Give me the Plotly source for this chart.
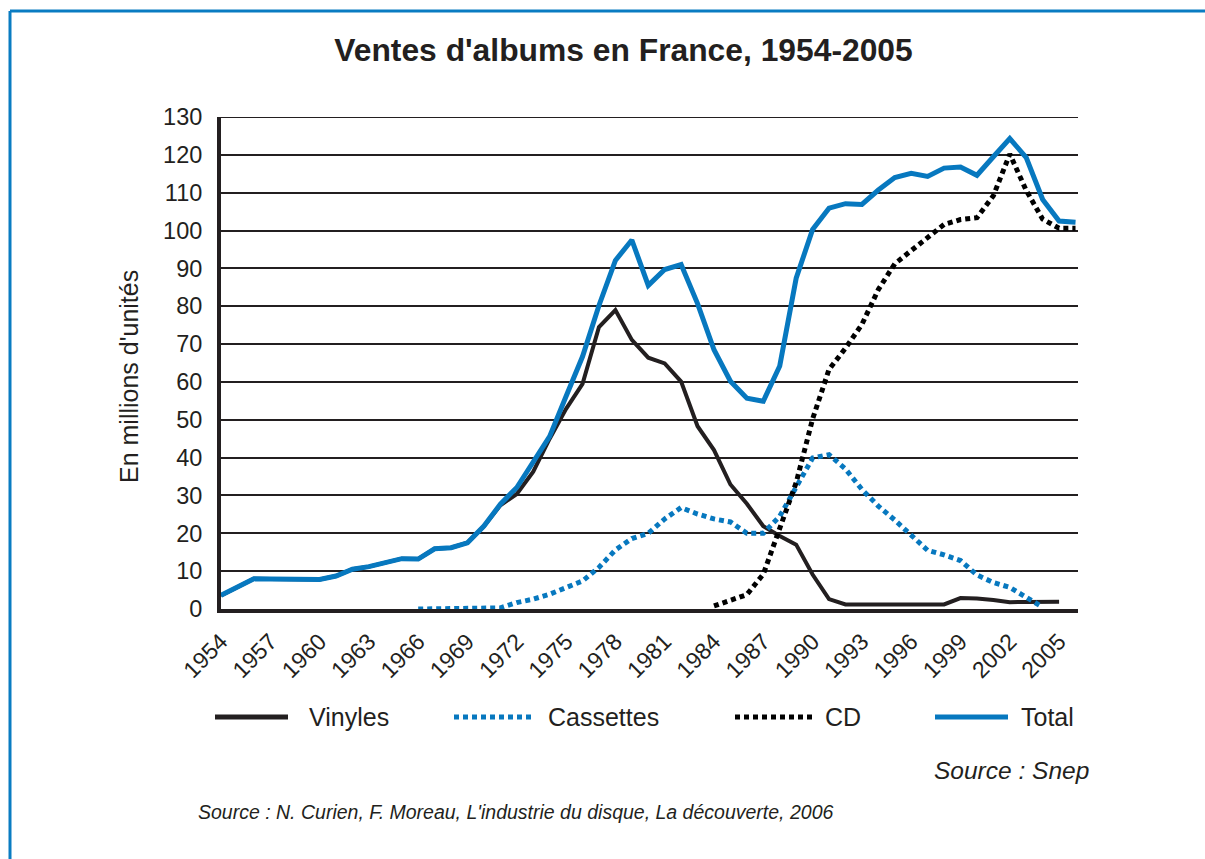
import plotly.graph_objects as go

# ---------------- data (millions of units) ----------------
years_total = list(range(1954, 2007))
total = [3.6, 5.8, 8.0, 7.95, 7.9, 7.85, 7.8, 8.7, 10.5, 11.2, 12.2, 13.3, 13.2, 15.9, 16.2,
         17.5, 21.9, 27.7, 32.1, 38.9, 45.6, 56.2, 66.7, 80.2, 92.1, 97.5, 85.5, 89.7, 91.0,
         80.7, 68.5, 60.2, 55.7, 54.9, 64.2, 87.4, 100.3, 105.9, 107.1, 106.9, 110.7, 114.0,
         115.1, 114.3, 116.5, 116.8, 114.6, 119.5, 124.3, 119.3, 108.2, 102.5, 102.2]

years_vinyl = list(range(1954, 2006))
vinyl = [3.6, 5.8, 8.0, 7.95, 7.9, 7.85, 7.8, 8.7, 10.5, 11.2, 12.2, 13.3, 13.2, 15.9, 16.2,
         17.5, 21.9, 27.4, 30.4, 36.3, 45.0, 52.9, 59.5, 74.5, 79.0, 71.1, 66.4, 64.9, 60.1,
         48.3, 42.0, 32.9, 27.8, 21.9, 19.3, 17.0, 9.1, 2.6, 1.2, 1.2, 1.2, 1.2, 1.2, 1.2,
         1.2, 2.9, 2.8, 2.4, 1.8, 1.85, 1.9, 1.9]

years_cass = list(range(1966, 2005))
cassettes = [0, 0, 0, 0, 0, 0.3, 1.7, 2.6, 3.9, 5.6, 7.4, 11.0, 15.6, 18.6, 20.0, 23.8, 26.8,
             25.1, 23.8, 23.0, 20.0, 20.0, 24.5, 32.2, 39.9, 40.8, 37.0, 31.6, 27.2, 23.5,
             19.6, 15.5, 14.3, 12.8, 9.0, 7.0, 5.7, 3.0, 0.5]

years_cd = list(range(1984, 2007))
cd = [0.8, 2.2, 3.8, 9.2, 21.0, 33.4, 50.2, 63.3, 68.9, 75.2, 84.4, 91.2, 94.7, 98.2, 101.6,
      102.9, 103.4, 109.2, 120.2, 110.6, 103.0, 100.6, 100.6]

x_ticks = list(range(1954, 2006, 3))
y_ticks = list(range(0, 131, 10))

series_names = ["Vinyles", "Cassettes", "CD", "Total"]
title_text = "Ventes d'albums en France, 1954-2005"
y_title = "En millions d'unités"
source1 = "Source : Snep"
source2 = "Source : N. Curien, F. Moreau, L'industrie du disque, La découverte, 2006"

# ---------------- styles ----------------
BLUE = "#0778BF"
BLACK = "#231F20"
FONT = "Liberation Sans, Arial, sans-serif"
DOT = "5px,4px"

W, H = 1205, 859
ML, MR, MT, MB = 221, 127, 117, 250
PW, PH = W - ML - MR, H - MT - MB


def px(x):
    return (x - ML) / PW


def py(y):
    return (H - MB - y) / PH


fig = go.Figure()
fig.add_trace(go.Scatter(x=years_vinyl, y=vinyl, mode="lines", name=series_names[0],
                         line=dict(color=BLACK, width=4)))
fig.add_trace(go.Scatter(x=years_cass, y=cassettes, mode="lines", name=series_names[1],
                         line=dict(color=BLUE, width=5, dash=DOT)))
fig.add_trace(go.Scatter(x=years_cd, y=cd, mode="lines", name=series_names[2],
                         line=dict(color="#000000", width=5, dash=DOT)))
fig.add_trace(go.Scatter(x=years_total, y=total, mode="lines", name=series_names[3],
                         line=dict(color=BLUE, width=5)))

shapes = []
# blue frame (left and top)
shapes.append(dict(type="line", xref="paper", yref="paper", x0=px(10), x1=px(10),
                   y0=py(11), y1=py(H + 5), line=dict(color="#0A7CC2", width=3)))
shapes.append(dict(type="line", xref="paper", yref="paper", x0=px(10), x1=px(W + 5),
                   y0=py(11), y1=py(11), line=dict(color="#0A7CC2", width=3)))
# top gridline at 130
shapes.append(dict(type="line", xref="paper", yref="y", x0=0, x1=1, y0=130, y1=130,
                   line=dict(color=BLACK, width=2), layer="below"))

# manual legend
leg_y = py(717)
leg_items = [
    (series_names[0], 215, 288, 307, dict(color=BLACK, width=5)),
    (series_names[1], 454, 531, 546, dict(color=BLUE, width=5, dash=DOT)),
    (series_names[2], 735, 812, 823, dict(color="#000000", width=5, dash=DOT)),
    (series_names[3], 935, 1008, 1019, dict(color=BLUE, width=5)),
]
annotations = []
for name, x0, x1, xt, ln in leg_items:
    shapes.append(dict(type="line", xref="paper", yref="paper", x0=px(x0), x1=px(x1),
                       y0=leg_y, y1=leg_y, line=ln))
    annotations.append(dict(text=name, xref="paper", yref="paper", x=px(xt), y=leg_y,
                            xanchor="left", yanchor="middle", showarrow=False,
                            font=dict(family=FONT, size=25, color=BLACK)))

annotations.append(dict(text=y_title, xref="paper", yref="paper", x=px(129), y=py(377),
                        textangle=-90, xanchor="center", yanchor="middle", showarrow=False,
                        font=dict(family=FONT, size=25, color=BLACK)))
annotations.append(dict(text="<i>" + source1 + "</i>", xref="paper", yref="paper",
                        x=px(1091), y=py(770), xanchor="right", yanchor="middle",
                        showarrow=False, font=dict(family=FONT, size=24.5, color=BLACK)))
annotations.append(dict(text="<i>" + source2 + "</i>", xref="paper", yref="paper",
                        x=px(196), y=py(812), xanchor="left", yanchor="middle",
                        showarrow=False, font=dict(family=FONT, size=19.5, color=BLACK)))

fig.update_layout(
    width=W, height=H,
    margin=dict(l=ML, r=MR, t=MT, b=MB),
    paper_bgcolor="white", plot_bgcolor="white",
    showlegend=False,
    title=dict(text="<b>" + title_text + "</b>", x=px(623.5), xref="paper", xanchor="center",
               y=(H - 50) / H, yref="container", yanchor="middle",
               font=dict(family=FONT, size=31.8, color=BLACK)),
    xaxis=dict(range=[1954, 2006.15], tickmode="array", tickvals=x_ticks,
               ticktext=[str(v) for v in x_ticks], tickangle=-45,
               showgrid=False, zeroline=False, showline=True, linecolor=BLACK, linewidth=4,
               ticks="", ticklabelstandoff=6, layer="below traces",
               tickfont=dict(family=FONT, size=23, color=BLACK)),
    yaxis=dict(range=[0, 130], tickmode="array", tickvals=y_ticks,
               showgrid=True, gridcolor=BLACK, gridwidth=2, zeroline=False,
               showline=True, linecolor=BLACK, linewidth=4, ticks="", ticklabelstandoff=10,
               tickfont=dict(family=FONT, size=23.5, color=BLACK)),
    shapes=shapes,
    annotations=annotations,
)

fig.write_html("out.html", config={"displayModeBar": False},
               post_script="document.body.style.margin='0';document.body.style.padding='0';")
